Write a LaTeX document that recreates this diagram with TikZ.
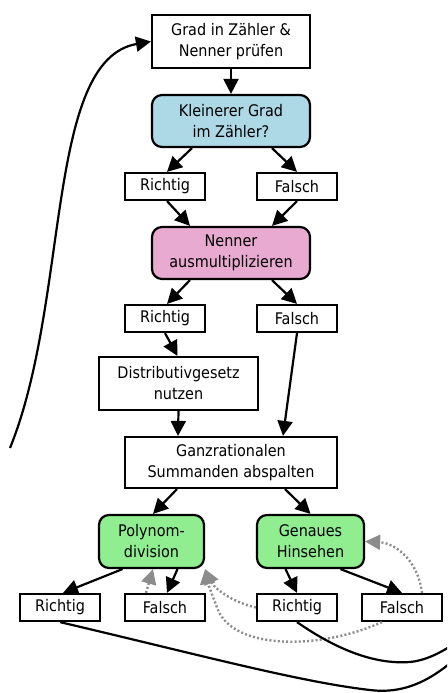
\documentclass[tikz,border=0pt]{standalone}
\usepackage{fontspec}
\setmainfont{DejaVu Sans Condensed}
\usetikzlibrary{arrows.meta}
\definecolor{qblue}{RGB}{173,216,230}
\definecolor{qpink}{RGB}{232,170,208}
\definecolor{qgreen}{RGB}{144,238,144}
\definecolor{retgray}{RGB}{140,140,140}
\newcommand{\boxfont}{\fontsize{16}{21}\selectfont}
\tikzset{
  box/.style={draw, line width=2.2pt, fill=white, align=center, inner sep=0pt, font=\boxfont},
  rbox/.style={box, rounded corners=10pt},
  ans/.style={box, minimum width=80pt, minimum height=27pt},
  edge/.style={line width=2.2pt, -{Triangle[length=15pt,width=15pt]}},
  loopline/.style={line width=2.2pt},
  retry/.style={line width=2.4pt, draw=retgray, dash pattern=on 2pt off 2.2pt,
    -{Triangle[length=15pt,width=15pt,fill=retgray]}},
}
\begin{document}
\begin{tikzpicture}[x=1pt,y=-1pt]
\useasboundingbox (0,0) rectangle (447,693);
\clip (0,0) rectangle (447,693);

% nodes
\node[box, minimum width=158pt, minimum height=53pt] (A) at (231,41.5) {Grad in Zähler \&\\Nenner prüfen};
\node[rbox, fill=qblue, minimum width=158pt, minimum height=52pt] (B) at (231,121) {Kleinerer Grad\\im Zähler?};
\node[ans] (R1) at (165,186.5) {Richtig};
\node[ans] (F1) at (297,186.5) {Falsch};
\node[rbox, fill=qpink, minimum width=158pt, minimum height=52pt] (C) at (231,253) {Nenner\\ausmultiplizieren};
\node[ans] (R2) at (165,318.5) {Richtig};
\node[ans] (F2) at (297,318.5) {Falsch};
\node[box, minimum width=159pt, minimum height=53pt] (D) at (178.5,383.5) {Distributivgesetz\\nutzen};
\node[box, minimum width=212pt, minimum height=51pt] (E) at (231,462.5) {Ganzrationalen\\Summanden abspalten};
\node[rbox, fill=qgreen, minimum width=105pt, minimum height=53pt] (P) at (151.5,541.5) {Polynom-\\division};
\node[rbox, fill=qgreen, minimum width=107pt, minimum height=53pt] (G) at (310.5,541.5) {Genaues\\Hinsehen};
\node[ans] (R3) at (60,607.5) {Richtig};
\node[ans] (F3) at (165,607.5) {Falsch};
\node[ans] (R4) at (297,607.5) {Richtig};
\node[ans] (F4) at (402,607.5) {Falsch};

% loose ends of the restart loops
\coordinate (loopin) at (10,448);
\coordinate (loopout1) at (470,645);
\coordinate (loopout2) at (470,632);

% main flow
\draw[edge] (A) -- (B);
\draw[edge] ([xshift=-39pt]B.south) -- ([xshift=2pt]R1.north);
\draw[edge] ([xshift=41pt]B.south) -- (F1.north);
\draw[edge] ([xshift=2pt]R1.south) -- ([xshift=-41pt]C.north);
\draw[edge] (F1.south) -- ([xshift=41pt]C.north);
\draw[edge] ([xshift=-41pt]C.south) -- ([xshift=2pt]R2.north);
\draw[edge] ([xshift=41pt]C.south) -- (F2.north);
\draw[edge] (R2.south) -- ([xshift=-1pt]D.north);
\draw[edge] (D.south) -- ([xshift=-53pt]E.north);
\draw[edge] (F2.south) -- ([xshift=52pt]E.north);
\draw[edge] ([xshift=-54pt]E.south) -- ([xshift=1.5pt]P.north);
\draw[edge] ([xshift=54pt]E.south) -- (G.north);
\draw[edge] ([xshift=-29pt]P.south) -- ([xshift=3pt]R3.north);
\draw[edge] ([xshift=26pt]P.south) -- ([xshift=2pt]F3.north);
\draw[edge] ([xshift=-25pt]G.south) -- (R4.north);
\draw[edge] ([xshift=30pt]G.south) -- (F4.north);

% retries
\draw[retry] ([xshift=-19pt]F3.north) -- ([xshift=1.5pt]P.south);
\draw[retry] (R4.west) .. controls (228,601) and (213,586) .. (P.south east);
\draw[retry] ([xshift=-20pt]F4.south) .. controls (320,650) and (235,650) .. (218,610)
  .. controls (212,595) and (207,580) .. (P.south east);
\draw[retry] ([xshift=20pt]F4.north) .. controls (418,560) and (395,543) .. (G.east);

% restart loops
\draw[loopline] (R3.south) .. controls (200,655) and (300,682) .. (370,690)
  .. controls (410,695) and (440,675) .. (loopout1);
\draw[loopline] (R4.south) .. controls (330,645) and (370,665) .. (410,662)
  .. controls (430,660) and (450,648) .. (loopout2);
\draw[edge] (loopin) .. controls (70,300) and (45,60) .. (A.west);
\end{tikzpicture}
\end{document}
